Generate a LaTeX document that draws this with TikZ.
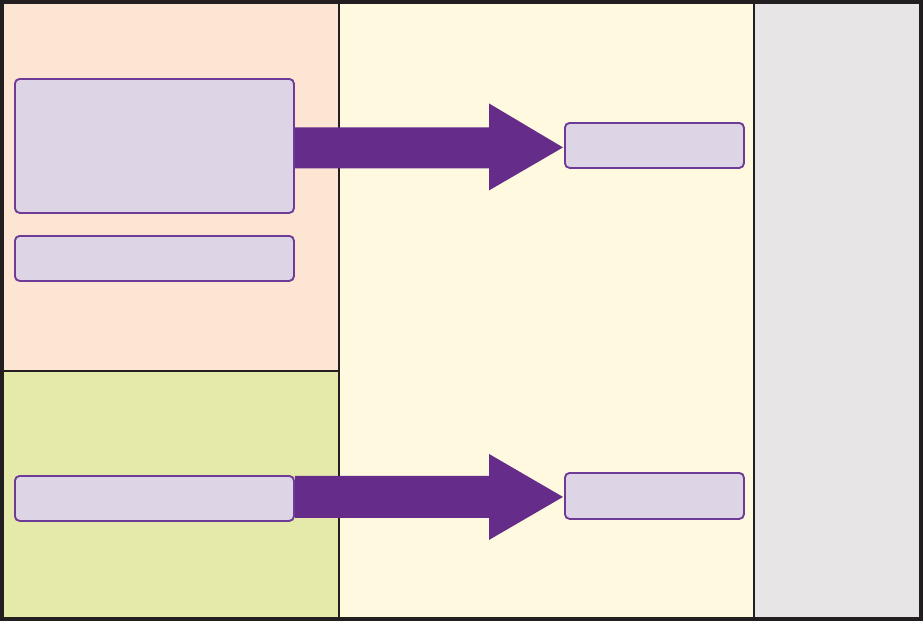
\documentclass[tikz,border=0pt]{standalone}
\usetikzlibrary{calc}
\definecolor{peach}{HTML}{FDE5D4}
\definecolor{leaf}{HTML}{E5EAAA}
\definecolor{cream}{HTML}{FEF9DF}
\definecolor{stone}{HTML}{E7E5E6}
\definecolor{lilac}{HTML}{DDD5E6}
\definecolor{plum}{HTML}{6E3B96}
\definecolor{grape}{HTML}{652D89}
\definecolor{ink}{HTML}{231F20}
\pgfdeclarelayer{base}
\pgfdeclarelayer{mid}
\pgfsetlayers{base,mid,main}
\tikzset{
  panel/.style={draw=ink, line width=1.9pt},
  frame/.style={draw=ink, line width=3pt},
  card/.style={draw=plum, fill=lilac, line width=1.4pt, rounded corners=3.5pt,
    rectangle, inner sep=0pt, anchor=north west},
  bigarrow/.style={fill=grape},
}
\begin{document}
\begin{tikzpicture}[x=0.75pt, y=-0.75pt]
  \useasboundingbox (0,0) rectangle (923,621);
  % background panels
  \begin{pgfonlayer}{base}
    \fill[peach] (2,2) rectangle (339,371);
    \fill[leaf] (2,371) rectangle (339,619);
    \fill[cream] (339,2) rectangle (754,619);
    \fill[stone] (754,2) rectangle (921,619);
    \draw[panel] (2,371) -- (339,371);
    \draw[panel] (339,2) -- (339,619);
    \draw[panel] (754,2) -- (754,619);
    \draw[frame] (2,2) rectangle (921,619);
  \end{pgfonlayer}

  % cards
  \node[card, minimum width=279*0.75pt, minimum height=134*0.75pt] (a) at (14,78) {};
  \node[card, minimum width=279*0.75pt, minimum height=45*0.75pt] (b) at (14,235) {};
  \node[card, minimum width=279*0.75pt, minimum height=45*0.75pt] (c) at (14,475) {};
  \node[card, minimum width=179*0.75pt, minimum height=45*0.75pt] (d) at (564,122) {};
  \node[card, minimum width=179*0.75pt, minimum height=46*0.75pt] (e) at (564,472) {};

  % block arrows, under the cards
  \begin{pgfonlayer}{mid}
    \fill[bigarrow]
      (a.east |- {$(d.west)+(0,-18)$}) -- ($(d.west)+(-75,-18)$) -- ($(d.west)+(-75,-42)$)
      -- ($(d.west)+(-1,2)$) -- ($(d.west)+(-75,45)$) -- ($(d.west)+(-75,23)$)
      -- (a.east |- {$(d.west)+(0,23)$}) -- cycle;
    \fill[bigarrow]
      (c.east |- {$(e.west)+(0,-20)$}) -- ($(e.west)+(-75,-20)$) -- ($(e.west)+(-75,-42)$)
      -- ($(e.west)+(-1,1)$) -- ($(e.west)+(-75,44)$) -- ($(e.west)+(-75,22)$)
      -- (c.east |- {$(e.west)+(0,22)$}) -- cycle;
  \end{pgfonlayer}
\end{tikzpicture}
\end{document}
